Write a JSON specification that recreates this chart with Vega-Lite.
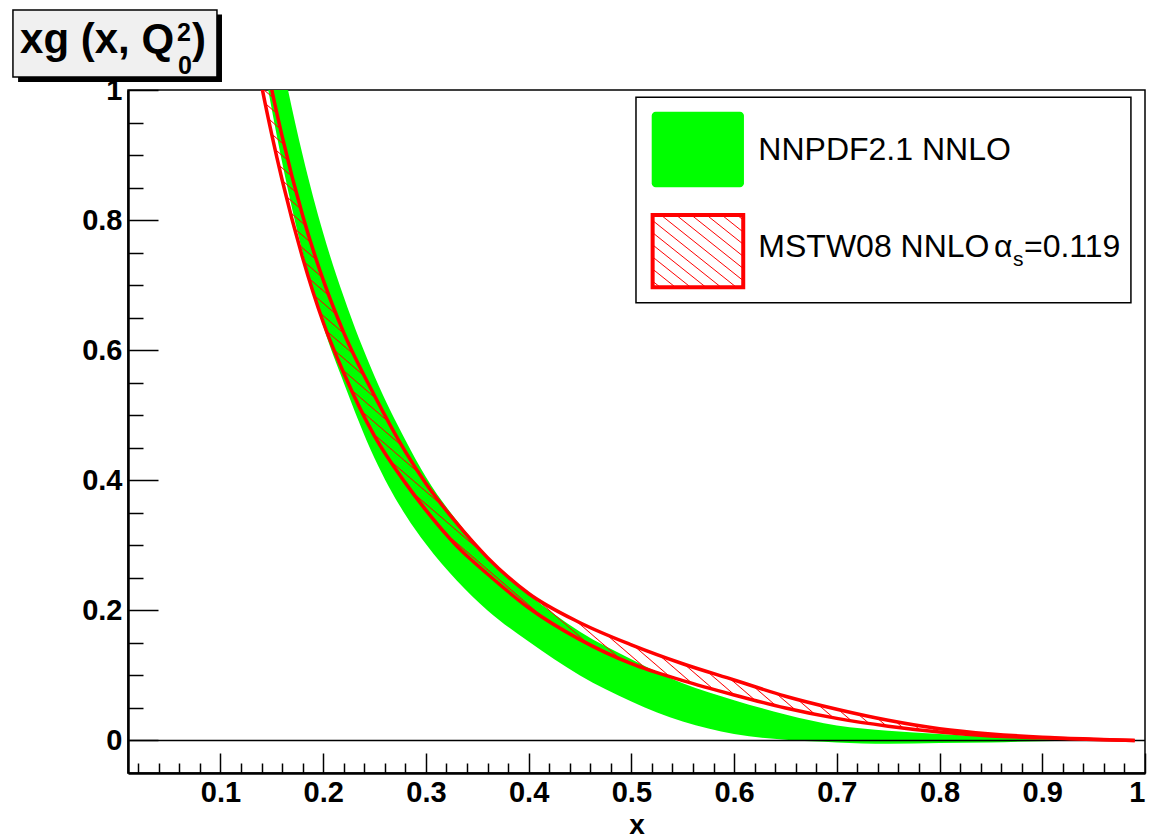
{
  "$schema": "https://vega.github.io/schema/vega-lite/v6.json",
  "width": 1017,
  "height": 683,
  "autosize": {"type": "none"},
  "padding": {"left": 128, "top": 90, "right": 4, "bottom": 67},
  "background": "white",
  "config": {
    "view": {"stroke": "black", "strokeWidth": 1.5},
    "font": "Liberation Sans",
    "axis": {
      "grid": false,
      "domainColor": "black",
      "domainWidth": 2.5,
      "tickColor": "black",
      "tickWidth": 1.5,
      "labelColor": "black",
      "titleColor": "black",
      "labelFont": "Liberation Sans",
      "labelFontWeight": "bold",
      "labelFontSize": 29,
      "titleFont": "Liberation Sans",
      "titleFontWeight": "bold",
      "titleFontSize": 28
    }
  },
  "datasets": {
    "curves": [
      {"x": 0.13, "nn_lo": 1.17, "nn_hi": 1.34, "m_lo": 1.093, "m_hi": 1.17},
      {"x": 0.14, "nn_lo": 1.06, "nn_hi": 1.23, "m_lo": 1.007, "m_hi": 1.08},
      {"x": 0.15, "nn_lo": 0.97, "nn_hi": 1.13, "m_lo": 0.931, "m_hi": 1.0},
      {"x": 0.16, "nn_lo": 0.889, "nn_hi": 1.045, "m_lo": 0.862, "m_hi": 0.929},
      {"x": 0.18, "nn_lo": 0.75, "nn_hi": 0.9, "m_lo": 0.742, "m_hi": 0.807},
      {"x": 0.2, "nn_lo": 0.637, "nn_hi": 0.78, "m_lo": 0.643, "m_hi": 0.708},
      {"x": 0.22, "nn_lo": 0.55, "nn_hi": 0.682, "m_lo": 0.565, "m_hi": 0.627},
      {"x": 0.25, "nn_lo": 0.434, "nn_hi": 0.56, "m_lo": 0.468, "m_hi": 0.53},
      {"x": 0.28, "nn_lo": 0.347, "nn_hi": 0.462, "m_lo": 0.396, "m_hi": 0.444},
      {"x": 0.3, "nn_lo": 0.302, "nn_hi": 0.405, "m_lo": 0.354, "m_hi": 0.395},
      {"x": 0.33, "nn_lo": 0.246, "nn_hi": 0.338, "m_lo": 0.299, "m_hi": 0.334},
      {"x": 0.36, "nn_lo": 0.2, "nn_hi": 0.283, "m_lo": 0.256, "m_hi": 0.281},
      {"x": 0.4, "nn_lo": 0.152, "nn_hi": 0.225, "m_lo": 0.204, "m_hi": 0.226},
      {"x": 0.45, "nn_lo": 0.1, "nn_hi": 0.167, "m_lo": 0.155, "m_hi": 0.181},
      {"x": 0.5, "nn_lo": 0.06, "nn_hi": 0.125, "m_lo": 0.118, "m_hi": 0.147},
      {"x": 0.55, "nn_lo": 0.029, "nn_hi": 0.088, "m_lo": 0.092, "m_hi": 0.118},
      {"x": 0.6, "nn_lo": 0.01, "nn_hi": 0.062, "m_lo": 0.07, "m_hi": 0.093},
      {"x": 0.65, "nn_lo": 0.001, "nn_hi": 0.04, "m_lo": 0.05, "m_hi": 0.068},
      {"x": 0.7, "nn_lo": -0.003, "nn_hi": 0.023, "m_lo": 0.034, "m_hi": 0.048},
      {"x": 0.75, "nn_lo": -0.005, "nn_hi": 0.015, "m_lo": 0.022, "m_hi": 0.031},
      {"x": 0.8, "nn_lo": -0.004, "nn_hi": 0.01, "m_lo": 0.013, "m_hi": 0.018},
      {"x": 0.85, "nn_lo": -0.003, "nn_hi": 0.006, "m_lo": 0.007, "m_hi": 0.01},
      {"x": 0.9, "nn_lo": -0.001, "nn_hi": 0.004, "m_lo": 0.004, "m_hi": 0.005},
      {"x": 0.95, "nn_lo": 0.0, "nn_hi": 0.001, "m_lo": 0.0015, "m_hi": 0.002},
      {"x": 0.99, "nn_lo": 0.0, "nn_hi": 0.0, "m_lo": 0.0, "m_hi": 0.0}
    ]
  },
  "resolve": {"axis": {"x": "independent", "y": "independent"}},
  "layer": [
    {
      "data": {"name": "curves"},
      "mark": {"type": "area", "color": "#00ff00", "clip": true, "interpolate": "monotone"},
      "encoding": {
        "x": {"field": "x", "type": "quantitative", "scale": {"domain": [0.01, 1], "nice": false, "zero": false},
          "axis": {"orient": "bottom", "values": [0.1, 0.2, 0.3, 0.4, 0.5, 0.6, 0.7, 0.8, 0.9, 1], "tickSize": -20, "labelPadding": 25, "labelExpr": "format(datum.value, '~g')", "title": "x", "titleBaseline": "alphabetic", "titleY": 60, "labelFlush": true, "labelOverlap": false}},
        "y": {"field": "nn_lo", "type": "quantitative", "scale": {"domain": [-0.05, 1], "nice": false, "zero": false},
          "axis": {"orient": "left", "values": [0, 0.2, 0.4, 0.6, 0.8, 1], "tickSize": -30, "labelPadding": 36, "labelExpr": "format(datum.value, '~g')", "title": null, "labelFlush": false, "labelOverlap": false}},
        "y2": {"field": "nn_hi"}
      }
    },
    {
      "data": {"values": [{"y": 0}]},
      "mark": {"type": "rule", "color": "black", "strokeWidth": 1.5},
      "encoding": {
        "y": {"field": "y", "type": "quantitative", "scale": {"domain": [-0.05, 1], "nice": false, "zero": false}, "axis": null}
      }
    },
    {
      "data": {"name": "curves"},
      "mark": {"type": "area", "clip": true, "interpolate": "monotone",
        "fill": {"gradient": "linear", "x1": 0, "y1": 1, "x2": 1, "y2": 0, "stops": [
          {"offset": 0.2371, "color": "rgba(255,0,0,0)"}, {"offset": 0.2378, "color": "#ff0000"}, {"offset": 0.2385, "color": "rgba(255,0,0,0)"},
          {"offset": 0.2453, "color": "rgba(255,0,0,0)"}, {"offset": 0.246, "color": "#ff0000"}, {"offset": 0.2467, "color": "rgba(255,0,0,0)"},
          {"offset": 0.2535, "color": "rgba(255,0,0,0)"}, {"offset": 0.2542, "color": "#ff0000"}, {"offset": 0.2549, "color": "rgba(255,0,0,0)"},
          {"offset": 0.2617, "color": "rgba(255,0,0,0)"}, {"offset": 0.2624, "color": "#ff0000"}, {"offset": 0.2631, "color": "rgba(255,0,0,0)"},
          {"offset": 0.2699, "color": "rgba(255,0,0,0)"}, {"offset": 0.2706, "color": "#ff0000"}, {"offset": 0.2713, "color": "rgba(255,0,0,0)"},
          {"offset": 0.2781, "color": "rgba(255,0,0,0)"}, {"offset": 0.2788, "color": "#ff0000"}, {"offset": 0.2795, "color": "rgba(255,0,0,0)"},
          {"offset": 0.2863, "color": "rgba(255,0,0,0)"}, {"offset": 0.287, "color": "#ff0000"}, {"offset": 0.2877, "color": "rgba(255,0,0,0)"},
          {"offset": 0.2945, "color": "rgba(255,0,0,0)"}, {"offset": 0.2952, "color": "#ff0000"}, {"offset": 0.2959, "color": "rgba(255,0,0,0)"},
          {"offset": 0.3027, "color": "rgba(255,0,0,0)"}, {"offset": 0.3034, "color": "#ff0000"}, {"offset": 0.3041, "color": "rgba(255,0,0,0)"},
          {"offset": 0.3109, "color": "rgba(255,0,0,0)"}, {"offset": 0.3116, "color": "#ff0000"}, {"offset": 0.3123, "color": "rgba(255,0,0,0)"},
          {"offset": 0.3191, "color": "rgba(255,0,0,0)"}, {"offset": 0.3198, "color": "#ff0000"}, {"offset": 0.3205, "color": "rgba(255,0,0,0)"},
          {"offset": 0.3273, "color": "rgba(255,0,0,0)"}, {"offset": 0.328, "color": "#ff0000"}, {"offset": 0.3287, "color": "rgba(255,0,0,0)"},
          {"offset": 0.3355, "color": "rgba(255,0,0,0)"}, {"offset": 0.3362, "color": "#ff0000"}, {"offset": 0.3369, "color": "rgba(255,0,0,0)"},
          {"offset": 0.3437, "color": "rgba(255,0,0,0)"}, {"offset": 0.3444, "color": "#ff0000"}, {"offset": 0.3451, "color": "rgba(255,0,0,0)"},
          {"offset": 0.3519, "color": "rgba(255,0,0,0)"}, {"offset": 0.3526, "color": "#ff0000"}, {"offset": 0.3533, "color": "rgba(255,0,0,0)"},
          {"offset": 0.3601, "color": "rgba(255,0,0,0)"}, {"offset": 0.3608, "color": "#ff0000"}, {"offset": 0.3615, "color": "rgba(255,0,0,0)"},
          {"offset": 0.3683, "color": "rgba(255,0,0,0)"}, {"offset": 0.369, "color": "#ff0000"}, {"offset": 0.3697, "color": "rgba(255,0,0,0)"},
          {"offset": 0.3765, "color": "rgba(255,0,0,0)"}, {"offset": 0.3772, "color": "#ff0000"}, {"offset": 0.3779, "color": "rgba(255,0,0,0)"},
          {"offset": 0.3847, "color": "rgba(255,0,0,0)"}, {"offset": 0.3854, "color": "#ff0000"}, {"offset": 0.3861, "color": "rgba(255,0,0,0)"},
          {"offset": 0.3929, "color": "rgba(255,0,0,0)"}, {"offset": 0.3936, "color": "#ff0000"}, {"offset": 0.3943, "color": "rgba(255,0,0,0)"},
          {"offset": 0.4011, "color": "rgba(255,0,0,0)"}, {"offset": 0.4018, "color": "#ff0000"}, {"offset": 0.4025, "color": "rgba(255,0,0,0)"},
          {"offset": 0.4093, "color": "rgba(255,0,0,0)"}, {"offset": 0.41, "color": "#ff0000"}, {"offset": 0.4107, "color": "rgba(255,0,0,0)"},
          {"offset": 0.4175, "color": "rgba(255,0,0,0)"}, {"offset": 0.4182, "color": "#ff0000"}, {"offset": 0.4189, "color": "rgba(255,0,0,0)"},
          {"offset": 0.4257, "color": "rgba(255,0,0,0)"}, {"offset": 0.4264, "color": "#ff0000"}, {"offset": 0.4271, "color": "rgba(255,0,0,0)"},
          {"offset": 0.4339, "color": "rgba(255,0,0,0)"}, {"offset": 0.4346, "color": "#ff0000"}, {"offset": 0.4353, "color": "rgba(255,0,0,0)"},
          {"offset": 0.4421, "color": "rgba(255,0,0,0)"}, {"offset": 0.4428, "color": "#ff0000"}, {"offset": 0.4435, "color": "rgba(255,0,0,0)"},
          {"offset": 0.4503, "color": "rgba(255,0,0,0)"}, {"offset": 0.451, "color": "#ff0000"}, {"offset": 0.4517, "color": "rgba(255,0,0,0)"},
          {"offset": 0.4585, "color": "rgba(255,0,0,0)"}, {"offset": 0.4592, "color": "#ff0000"}, {"offset": 0.4599, "color": "rgba(255,0,0,0)"},
          {"offset": 0.4667, "color": "rgba(255,0,0,0)"}, {"offset": 0.4674, "color": "#ff0000"}, {"offset": 0.4681, "color": "rgba(255,0,0,0)"},
          {"offset": 0.4749, "color": "rgba(255,0,0,0)"}, {"offset": 0.4756, "color": "#ff0000"}, {"offset": 0.4763, "color": "rgba(255,0,0,0)"},
          {"offset": 0.4831, "color": "rgba(255,0,0,0)"}, {"offset": 0.4838, "color": "#ff0000"}, {"offset": 0.4845, "color": "rgba(255,0,0,0)"},
          {"offset": 0.4913, "color": "rgba(255,0,0,0)"}, {"offset": 0.492, "color": "#ff0000"}, {"offset": 0.4927, "color": "rgba(255,0,0,0)"},
          {"offset": 0.4995, "color": "rgba(255,0,0,0)"}, {"offset": 0.5002, "color": "#ff0000"}, {"offset": 0.5009, "color": "rgba(255,0,0,0)"},
          {"offset": 0.5077, "color": "rgba(255,0,0,0)"}, {"offset": 0.5084, "color": "#ff0000"}, {"offset": 0.5091, "color": "rgba(255,0,0,0)"}
        ]}},
      "encoding": {
        "x": {"field": "x", "type": "quantitative", "scale": {"domain": [0.01, 1], "nice": false, "zero": false},
          "axis": {"orient": "bottom", "values": [0.02, 0.04, 0.06, 0.08, 0.12, 0.14, 0.16, 0.18, 0.22, 0.24, 0.26, 0.28, 0.32, 0.34, 0.36, 0.38, 0.42, 0.44, 0.46, 0.48, 0.52, 0.54, 0.56, 0.58, 0.62, 0.64, 0.66, 0.68, 0.72, 0.74, 0.76, 0.78, 0.82, 0.84, 0.86, 0.88, 0.92, 0.94, 0.96, 0.98], "tickSize": -10, "labels": false, "domain": false, "title": null}},
        "y": {"field": "m_lo", "type": "quantitative", "scale": {"domain": [-0.05, 1], "nice": false, "zero": false},
          "axis": {"orient": "left", "values": [0.05, 0.1, 0.15, 0.25, 0.3, 0.35, 0.45, 0.5, 0.55, 0.65, 0.7, 0.75, 0.85, 0.9, 0.95], "tickSize": -15, "labels": false, "domain": false, "title": null}},
        "y2": {"field": "m_hi"}
      }
    },
    {
      "data": {"name": "curves"},
      "mark": {"type": "line", "color": "#ff0000", "strokeWidth": 3.5, "clip": true, "interpolate": "monotone"},
      "encoding": {
        "x": {"field": "x", "type": "quantitative", "scale": {"domain": [0.01, 1], "nice": false, "zero": false}, "axis": null},
        "y": {"field": "m_lo", "type": "quantitative", "scale": {"domain": [-0.05, 1], "nice": false, "zero": false}, "axis": null}
      }
    },
    {
      "data": {"name": "curves"},
      "mark": {"type": "line", "color": "#ff0000", "strokeWidth": 3.5, "clip": true, "interpolate": "monotone"},
      "encoding": {
        "x": {"field": "x", "type": "quantitative", "scale": {"domain": [0.01, 1], "nice": false, "zero": false}, "axis": null},
        "y": {"field": "m_hi", "type": "quantitative", "scale": {"domain": [-0.05, 1], "nice": false, "zero": false}, "axis": null}
      }
    },
    {
      "data": {"values": [{"x": 0.5045, "x2": 0.9863, "y": 0.673, "y2": 0.9888}]},
      "mark": {"type": "rect", "fill": "white", "stroke": "black", "strokeWidth": 1.5, "clip": false},
      "encoding": {
        "x": {"field": "x", "type": "quantitative", "scale": {"domain": [0.01, 1], "nice": false, "zero": false}, "axis": null},
        "x2": {"field": "x2"},
        "y": {"field": "y", "type": "quantitative", "scale": {"domain": [-0.05, 1], "nice": false, "zero": false}, "axis": null},
        "y2": {"field": "y2"}
      }
    },
    {
      "data": {"values": [{"x": 0.5198, "x2": 0.6096, "y": 0.8504, "y2": 0.9666}]},
      "mark": {"type": "rect", "fill": "#00ff00", "cornerRadius": 4, "clip": false},
      "encoding": {
        "x": {"field": "x", "type": "quantitative", "scale": {"domain": [0.01, 1], "nice": false, "zero": false}, "axis": null},
        "x2": {"field": "x2"},
        "y": {"field": "y", "type": "quantitative", "scale": {"domain": [-0.05, 1], "nice": false, "zero": false}, "axis": null},
        "y2": {"field": "y2"}
      }
    },
    {
      "data": {"values": [{"x": 0.5207, "x2": 0.6089, "y": 0.6967, "y2": 0.8078}]},
      "mark": {"type": "rect", "stroke": "#ff0000", "strokeWidth": 4, "clip": false,
        "fill": {"gradient": "linear", "x1": 0, "y1": 1, "x2": 1, "y2": 0, "stops": [
          {"offset": 0.035, "color": "rgba(255,0,0,0)"}, {"offset": 0.042, "color": "#ff0000"}, {"offset": 0.049, "color": "rgba(255,0,0,0)"},
          {"offset": 0.119, "color": "rgba(255,0,0,0)"}, {"offset": 0.126, "color": "#ff0000"}, {"offset": 0.133, "color": "rgba(255,0,0,0)"},
          {"offset": 0.203, "color": "rgba(255,0,0,0)"}, {"offset": 0.21, "color": "#ff0000"}, {"offset": 0.217, "color": "rgba(255,0,0,0)"},
          {"offset": 0.287, "color": "rgba(255,0,0,0)"}, {"offset": 0.294, "color": "#ff0000"}, {"offset": 0.301, "color": "rgba(255,0,0,0)"},
          {"offset": 0.371, "color": "rgba(255,0,0,0)"}, {"offset": 0.378, "color": "#ff0000"}, {"offset": 0.385, "color": "rgba(255,0,0,0)"},
          {"offset": 0.455, "color": "rgba(255,0,0,0)"}, {"offset": 0.462, "color": "#ff0000"}, {"offset": 0.469, "color": "rgba(255,0,0,0)"},
          {"offset": 0.539, "color": "rgba(255,0,0,0)"}, {"offset": 0.546, "color": "#ff0000"}, {"offset": 0.553, "color": "rgba(255,0,0,0)"},
          {"offset": 0.623, "color": "rgba(255,0,0,0)"}, {"offset": 0.63, "color": "#ff0000"}, {"offset": 0.637, "color": "rgba(255,0,0,0)"},
          {"offset": 0.707, "color": "rgba(255,0,0,0)"}, {"offset": 0.714, "color": "#ff0000"}, {"offset": 0.721, "color": "rgba(255,0,0,0)"},
          {"offset": 0.791, "color": "rgba(255,0,0,0)"}, {"offset": 0.798, "color": "#ff0000"}, {"offset": 0.805, "color": "rgba(255,0,0,0)"},
          {"offset": 0.875, "color": "rgba(255,0,0,0)"}, {"offset": 0.882, "color": "#ff0000"}, {"offset": 0.889, "color": "rgba(255,0,0,0)"},
          {"offset": 0.959, "color": "rgba(255,0,0,0)"}, {"offset": 0.966, "color": "#ff0000"}, {"offset": 0.973, "color": "rgba(255,0,0,0)"}
        ]}},
      "encoding": {
        "x": {"field": "x", "type": "quantitative", "scale": {"domain": [0.01, 1], "nice": false, "zero": false}, "axis": null},
        "x2": {"field": "x2"},
        "y": {"field": "y", "type": "quantitative", "scale": {"domain": [-0.05, 1], "nice": false, "zero": false}, "axis": null},
        "y2": {"field": "y2"}
      }
    },
    {
      "data": {"values": [
        {"x": 0.6236, "y": 0.8924, "t": "NNPDF2.1 NNLO"},
        {"x": 0.6236, "y": 0.7437, "t": "MSTW08 NNLO"},
        {"x": 0.853, "y": 0.7437, "t": "α"},
        {"x": 0.8822, "y": 0.7437, "t": "=0.119"}
      ]},
      "mark": {"type": "text", "align": "left", "baseline": "alphabetic", "font": "Liberation Sans", "fontSize": 32, "color": "black", "clip": false},
      "encoding": {
        "x": {"field": "x", "type": "quantitative", "scale": {"domain": [0.01, 1], "nice": false, "zero": false}, "axis": null},
        "y": {"field": "y", "type": "quantitative", "scale": {"domain": [-0.05, 1], "nice": false, "zero": false}, "axis": null},
        "text": {"field": "t"}
      }
    },
    {
      "data": {"values": [{"x": 0.8715, "y": 0.7298, "t": "s"}]},
      "mark": {"type": "text", "align": "left", "baseline": "alphabetic", "font": "Liberation Sans", "fontSize": 21, "color": "black", "clip": false},
      "encoding": {
        "x": {"field": "x", "type": "quantitative", "scale": {"domain": [0.01, 1], "nice": false, "zero": false}, "axis": null},
        "y": {"field": "y", "type": "quantitative", "scale": {"domain": [-0.05, 1], "nice": false, "zero": false}, "axis": null},
        "text": {"field": "t"}
      }
    },
    {
      "data": {"values": [{"x": -0.097, "x2": 0.1015, "y": 1.0123, "y2": 1.116}]},
      "mark": {"type": "rect", "fill": "black", "clip": false},
      "encoding": {
        "x": {"field": "x", "type": "quantitative", "scale": {"domain": [0.01, 1], "nice": false, "zero": false}, "axis": null},
        "x2": {"field": "x2"},
        "y": {"field": "y", "type": "quantitative", "scale": {"domain": [-0.05, 1], "nice": false, "zero": false}, "axis": null},
        "y2": {"field": "y2"}
      }
    },
    {
      "data": {"values": [{"x": -0.102, "x2": 0.0966, "y": 1.02, "y2": 1.123}]},
      "mark": {"type": "rect", "fill": "#f0f0f0", "stroke": "black", "strokeWidth": 1.5, "clip": false},
      "encoding": {
        "x": {"field": "x", "type": "quantitative", "scale": {"domain": [0.01, 1], "nice": false, "zero": false}, "axis": null},
        "x2": {"field": "x2"},
        "y": {"field": "y", "type": "quantitative", "scale": {"domain": [-0.05, 1], "nice": false, "zero": false}, "axis": null},
        "y2": {"field": "y2"}
      }
    },
    {
      "data": {"values": [
        {"x": -0.0951, "y": 1.0569, "t": "xg (x, Q"},
        {"x": 0.0723, "y": 1.0569, "t": ")"}
      ]},
      "mark": {"type": "text", "align": "left", "baseline": "alphabetic", "font": "Liberation Sans", "fontWeight": "bold", "fontSize": 42, "color": "black", "clip": false},
      "encoding": {
        "x": {"field": "x", "type": "quantitative", "scale": {"domain": [0.01, 1], "nice": false, "zero": false}, "axis": null},
        "y": {"field": "y", "type": "quantitative", "scale": {"domain": [-0.05, 1], "nice": false, "zero": false}, "axis": null},
        "text": {"field": "t"}
      }
    },
    {
      "data": {"values": [
        {"x": 0.0577, "y": 1.0754, "t": "2"},
        {"x": 0.0587, "y": 1.0246, "t": "0"}
      ]},
      "mark": {"type": "text", "align": "left", "baseline": "alphabetic", "font": "Liberation Sans", "fontWeight": "bold", "fontSize": 25, "color": "black", "clip": false},
      "encoding": {
        "x": {"field": "x", "type": "quantitative", "scale": {"domain": [0.01, 1], "nice": false, "zero": false}, "axis": null},
        "y": {"field": "y", "type": "quantitative", "scale": {"domain": [-0.05, 1], "nice": false, "zero": false}, "axis": null},
        "text": {"field": "t"}
      }
    }
  ]
}
